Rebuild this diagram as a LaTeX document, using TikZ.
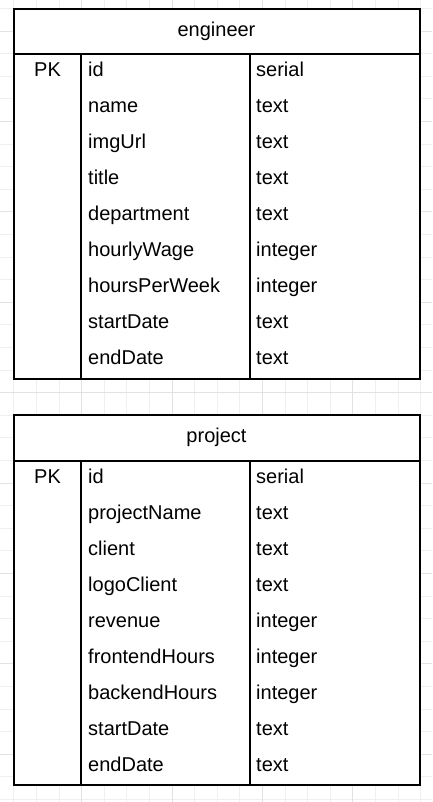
\documentclass[tikz,border=0pt]{standalone}
\usepackage{fontspec}
\setmainfont{Liberation Sans}
\definecolor{gridminor}{HTML}{EFEFEF}
\definecolor{gridmajor}{HTML}{E2E2E2}
\tikzset{
  title/.style={font=\fontsize{20}{24}\selectfont, anchor=base, inner sep=0pt},
  field/.style={font=\fontsize{20}{24}\selectfont, anchor=base west, inner sep=0pt},
  tbl/.style={line width=2pt, draw=black, line cap=rect},
}
\begin{document}
\begin{tikzpicture}[x=1pt,y=-1pt]
                \useasboundingbox (0,0) rectangle (432,802);
                \fill[white] (0,0) rectangle (432,802);
                % background grid
                \foreach \k in {-1,...,18} \draw[gridminor, line width=1pt] (13.9+22.6*\k,0) -- (13.9+22.6*\k,802);
                \foreach \k in {0,...,35} \draw[gridminor, line width=1pt] (0,8.5+22.6*\k) -- (432,8.5+22.6*\k);
                \foreach \k in {0,...,3} \draw[gridmajor, line width=1pt] (81.7+90.4*\k,0) -- (81.7+90.4*\k,802);
                \foreach \k in {0,...,8} \draw[gridmajor, line width=1pt] (0,31.1+90.4*\k) -- (432,31.1+90.4*\k);

                % engineer table
                \fill[white] (13.5,9) rectangle (420,379);
                \draw[tbl] (13.5,9) rectangle (420,379);
                \draw[tbl] (13.5,54) -- (420,54);
                \draw[tbl] (81,54) -- (81,379);
                \draw[tbl] (250,54) -- (250,379);

                \node[title] (eng) at (216.5,36.5) {engineer};
                \node[title] (epk) at (47.5,76.5) {PK};
                \node[field] (eid) at (88,76.5) {id};
                \node[field] (ename) at (88,112.5) {name};
                \node[field] (eimg) at (88,148.5) {imgUrl};
                \node[field] (etitle) at (88,184.5) {title};
                \node[field] (edep) at (88,220.5) {department};
                \node[field] (ewage) at (88,256.5) {hourlyWage};
                \node[field] (ehours) at (88,292.5) {hoursPerWeek};
                \node[field] (estart) at (88,328.5) {startDate};
                \node[field] (eend) at (88,364.5) {endDate};
                \node[field] (eidty) at (256,76.5) {serial};
                \node[field] (enamety) at (256,112.5) {text};
                \node[field] (eimgty) at (256,148.5) {text};
                \node[field] (etitlety) at (256,184.5) {text};
                \node[field] (edepty) at (256,220.5) {text};
                \node[field] (ewagety) at (256,256.5) {integer};
                \node[field] (ehoursty) at (256,292.5) {integer};
                \node[field] (estartty) at (256,328.5) {text};
                \node[field] (eendty) at (256,364.5) {text};

                % project table
                \fill[white] (13.5,415) rectangle (420,785);
                \draw[tbl] (13.5,415) rectangle (420,785);
                \draw[tbl] (13.5,461) -- (420,461);
                \draw[tbl] (81,461) -- (81,785);
                \draw[tbl] (250,461) -- (250,785);

                \node[title] (proj) at (216.5,442.5) {project};
                \node[title] (ppk) at (47.5,483.5) {PK};
                \node[field] (pid) at (88,483.5) {id};
                \node[field] (pname) at (88,519.5) {projectName};
                \node[field] (pclient) at (88,555.5) {client};
                \node[field] (plogo) at (88,591.5) {logoClient};
                \node[field] (prev) at (88,627.5) {revenue};
                \node[field] (pfront) at (88,663.5) {frontendHours};
                \node[field] (pback) at (88,699.5) {backendHours};
                \node[field] (pstart) at (88,735.5) {startDate};
                \node[field] (pend) at (88,771.5) {endDate};
                \node[field] (pidty) at (256,483.5) {serial};
                \node[field] (pnamety) at (256,519.5) {text};
                \node[field] (pclientty) at (256,555.5) {text};
                \node[field] (plogoty) at (256,591.5) {text};
                \node[field] (prevty) at (256,627.5) {integer};
                \node[field] (pfrontty) at (256,663.5) {integer};
                \node[field] (pbackty) at (256,699.5) {integer};
                \node[field] (pstartty) at (256,735.5) {text};
                \node[field] (pendty) at (256,771.5) {text};
            \end{tikzpicture}
\end{document}
